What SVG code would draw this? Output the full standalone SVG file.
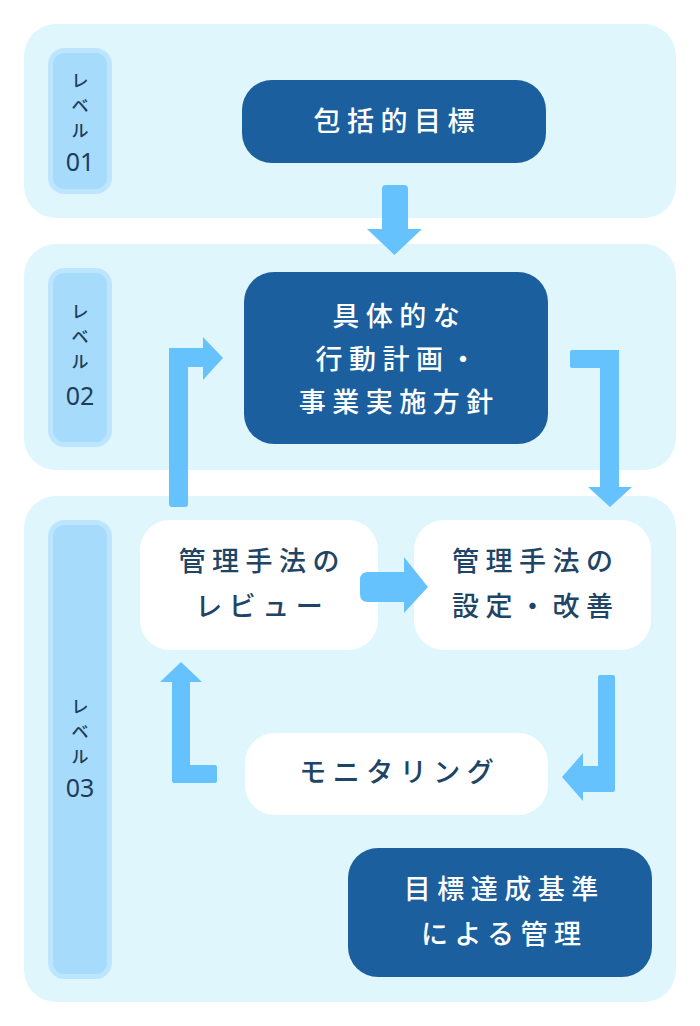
<svg xmlns="http://www.w3.org/2000/svg" width="700" height="1026" viewBox="0 0 700 1026">
<style>
.panel{fill:#dff6fd}
.lv{fill:#a6dbfc;stroke:#bde6fe;stroke-width:5}
.lvt{font-family:"Noto Sans CJK JP","Noto Sans",sans-serif;font-size:17px;font-weight:500;fill:#1f3d5a;text-anchor:middle;dominant-baseline:central}
.lvn{font-family:"Noto Sans","Noto Sans CJK JP",sans-serif;font-size:25px;fill:#1f3d5a;text-anchor:middle;dominant-baseline:central}
.dark{fill:#1c5f9e}
.light{fill:#ffffff}
.tw{font-family:"Noto Sans CJK JP",sans-serif;font-size:27px;font-weight:500;letter-spacing:6.5px;fill:#ffffff;text-anchor:middle;dominant-baseline:central}
.td{font-family:"Noto Sans CJK JP",sans-serif;font-size:27px;font-weight:500;letter-spacing:6.5px;fill:#1e4466;text-anchor:middle;dominant-baseline:central}
.arr{fill:#66c2fd}
</style>
<rect width="700" height="1026" fill="#ffffff"/>
<g id="panel1"><rect class="panel" x="24" y="24" width="652" height="194" rx="32"/></g>
<g id="panel2"><rect class="panel" x="24" y="244" width="652" height="226" rx="32"/></g>
<g id="panel3"><rect class="panel" x="24" y="496" width="652" height="506" rx="32"/></g>

<g id="level01">
<rect class="lv" x="50.5" y="50.5" width="59" height="141" rx="14"/>
<text class="lvt" x="80" y="79">レ</text>
<text class="lvt" x="80" y="104">ベ</text>
<text class="lvt" x="80" y="129">ル</text>
<text class="lvn" x="80" y="161">01</text>
</g>
<g id="level02">
<rect class="lv" x="50.5" y="270.5" width="59" height="174" rx="14"/>
<text class="lvt" x="80" y="310">レ</text>
<text class="lvt" x="80" y="335">ベ</text>
<text class="lvt" x="80" y="360">ル</text>
<text class="lvn" x="80" y="395">02</text>
</g>
<g id="level03">
<rect class="lv" x="50.5" y="522.5" width="59" height="454" rx="14"/>
<text class="lvt" x="80" y="705">レ</text>
<text class="lvt" x="80" y="730">ベ</text>
<text class="lvt" x="80" y="755">ル</text>
<text class="lvn" x="80" y="787">03</text>
</g>

<g id="node-goal">
<rect class="dark" x="242" y="80" width="304" height="83" rx="30"/>
<text class="tw" x="397.25" y="119">包括的目標</text>
</g>
<g id="node-plan">
<rect class="dark" x="244" y="272" width="304" height="172" rx="30"/>
<text class="tw" x="399.25" y="314">具体的な</text>
<text class="tw" x="399.25" y="357">行動計画・</text>
<text class="tw" x="399.25" y="400">事業実施方針</text>
</g>
<g id="node-review">
<rect class="light" x="140" y="520" width="238" height="130" rx="30"/>
<text class="td" x="262.25" y="559">管理手法の</text>
<text class="td" x="262.25" y="604">レビュー</text>
</g>
<g id="node-setting">
<rect class="light" x="414" y="520" width="237" height="130" rx="30"/>
<text class="td" x="535.75" y="559">管理手法の</text>
<text class="td" x="535.75" y="604">設定・改善</text>
</g>
<g id="node-monitoring">
<rect class="light" x="245" y="733" width="303" height="82" rx="30"/>
<text class="td" x="399.75" y="770">モニタリング</text>
</g>
<g id="node-criteria">
<rect class="dark" x="348" y="848" width="304" height="129" rx="30"/>
<text class="tw" x="504.25" y="887">目標達成基準</text>
<text class="tw" x="504.25" y="932">による管理</text>
</g>

<g id="connectors">
<path class="arr" d="M386,185 H404 Q408,185 408,189 V229 H422 L394.5,255 L367,229 H382 V189 Q382,185 386,185 Z"/>
<path class="arr" d="M172,507 Q169,507 169,504 V348 H203 V337 L223,358 L203,380 V367 H188 V504 Q188,507 185,507 Z"/>
<path class="arr" d="M572,350 H619 V487 H632 L610,507 L588,487 H600 V368 H572 Q570,368 570,366 V352 Q570,350 572,350 Z"/>
<path class="arr" d="M368,572 H404 V557 L428,587 L404,613 V602 H368 Q360,602 360,594 V580 Q360,572 368,572 Z"/>
<path class="arr" d="M600,675 H613 Q615,675 615,677 V790 Q615,792 613,792 H583 V801 L562,777 L583,753 V766 H598 V677 Q598,675 600,675 Z"/>
<path class="arr" d="M172,682 H160 L181,662 L202,682 H190 V765 H215 Q217,765 217,767 V781 Q217,783 215,783 H174 Q172,783 172,781 Z"/>
</g>
</svg>
